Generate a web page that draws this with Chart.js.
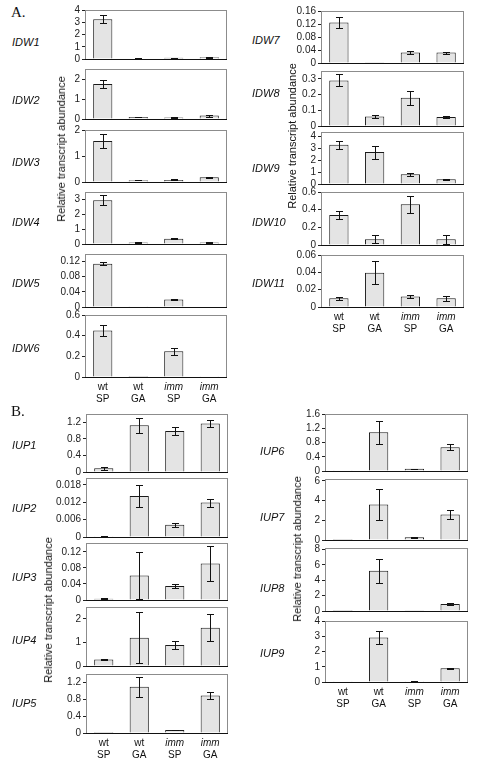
<!DOCTYPE html>
<html>
<head>
<meta charset="utf-8">
<script src="https://cdn.jsdelivr.net/npm/chart.js@4.4.1/dist/chart.umd.min.js"></script>
<style>
  body { margin: 0; background: #fff; width: 484px; height: 764px; position: relative; overflow: hidden;
         font-family: "Liberation Sans", Arial, sans-serif; color: #111; }
  canvas { position: absolute; }
  .gene { position: absolute; font-style: italic; font-size: 11px; transform: translateY(-50%); white-space: nowrap; }
  .sec { position: absolute; font-family: "Liberation Serif", serif; font-size: 15px; }
  .ytitle { position: absolute; font-size: 11px; white-space: nowrap; transform: translate(-50%, -50%) rotate(-90deg); }
</style>
</head>
<body>
<script>
// categories: genotype / treatment
var genotypes = ['wt', 'wt', 'imm', 'imm'];
var treatments = ['SP', 'GA', 'SP', 'GA'];
var categories = ['wt SP', 'wt GA', 'imm SP', 'imm GA'];

// A. IDW genes (mean, error)
var IDW1 = [3.25, 0.05, 0.1, 0.15],        IDW1_ERR = [0.35, 0.01, 0.02, 0.03];
var IDW2 = [1.75, 0.1, 0.07, 0.17],        IDW2_ERR = [0.22, 0.01, 0.01, 0.05];
var IDW3 = [1.58, 0.07, 0.08, 0.18],       IDW3_ERR = [0.28, 0.01, 0.02, 0.02];
var IDW4 = [2.95, 0.1, 0.35, 0.1],         IDW4_ERR = [0.33, 0.02, 0.03, 0.02];
var IDW5 = [0.114, 0.002, 0.02, 0.001],    IDW5_ERR = [0.004, 0, 0.002, 0];
var IDW6 = [0.45, 0.001, 0.25, 0.002],     IDW6_ERR = [0.05, 0, 0.035, 0];
var IDW7 = [0.125, 0.001, 0.032, 0.032],   IDW7_ERR = [0.018, 0, 0.004, 0.003];
var IDW8 = [0.29, 0.06, 0.18, 0.058],      IDW8_ERR = [0.038, 0.01, 0.045, 0.008];
var IDW9 = [3.32, 2.7, 0.83, 0.4],         IDW9_ERR = [0.35, 0.55, 0.12, 0.05];
var IDW10 = [0.34, 0.065, 0.46, 0.065],    IDW10_ERR = [0.05, 0.045, 0.095, 0.05];
var IDW11 = [0.01, 0.0396, 0.012, 0.01],   IDW11_ERR = [0.002, 0.013, 0.002, 0.003];

// B. IUP genes (mean, error)
var IUP1 = [0.09, 1.13, 0.99, 1.17],       IUP1_ERR = [0.04, 0.18, 0.1, 0.08];
var IUP2 = [0.0003, 0.0142, 0.0042, 0.0119], IUP2_ERR = [0.0002, 0.0038, 0.0006, 0.0014];
var IUP3 = [0.003, 0.061, 0.035, 0.091],   IUP3_ERR = [0.001, 0.058, 0.004, 0.043];
var IUP4 = [0.28, 1.2, 0.89, 1.62],        IUP4_ERR = [0.03, 1.07, 0.18, 0.57];
var IUP5 = [0.002, 1.1, 0.07, 0.89],       IUP5_ERR = [0, 0.24, 0.01, 0.08];
var IUP6 = [0.005, 1.09, 0.06, 0.67],      IUP6_ERR = [0, 0.32, 0.01, 0.09];
var IUP7 = [0.01, 3.6, 0.27, 2.6],         IUP7_ERR = [0, 1.6, 0.03, 0.5];
var IUP8 = [0.01, 5.25, 0.04, 0.9],        IUP8_ERR = [0, 1.57, 0.01, 0.15];
var IUP9 = [0.01, 2.92, 0.05, 0.9],        IUP9_ERR = [0, 0.45, 0.01, 0.05];

// y tick labels for each panel
var T_0_4 = [0, 1, 2, 3, 4];
var T_0_2 = [0, 1, 2];
var T_0_3 = [0, 1, 2, 3];
var T_012 = [0, 0.04, 0.08, 0.12];
var T_06 = [0, 0.2, 0.4, 0.6];
var T_016 = [0, 0.04, 0.08, 0.12, 0.16];
var T_03 = [0, 0.1, 0.2, 0.3];
var T_006 = [0, 0.02, 0.04, 0.06];
var T_12 = [0, 0.4, 0.8, 1.2];
var T_0018 = [0, 0.006, 0.012, 0.018];
var T_16 = [0, 0.4, 0.8, 1.2, 1.6];
var T_6 = [0, 2, 4, 6];
var T_8 = [0, 2, 4, 6, 8];

// column geometry
var colA1 = { x0: 85, x1: 227, lx: 12 };
var colA2 = { x0: 321, x1: 464, lx: 252 };
var colB1 = { x0: 86, x1: 228, lx: 12 };
var colB2 = { x0: 325, x1: 468, lx: 260 };

var panels = [
  { name: 'IDW1', col: colA1, v: IDW1, e: IDW1_ERR, ticks: T_0_4, max: 4, top: 10, bottom: 59, ly: 42 },
  { name: 'IDW2', col: colA1, v: IDW2, e: IDW2_ERR, ticks: T_0_2, max: 2.5, top: 69, bottom: 119, ly: 100 },
  { name: 'IDW3', col: colA1, v: IDW3, e: IDW3_ERR, ticks: T_0_2, max: 2, top: 130, bottom: 182, ly: 162 },
  { name: 'IDW4', col: colA1, v: IDW4, e: IDW4_ERR, ticks: T_0_3, max: 3.5, top: 192, bottom: 244, ly: 222 },
  { name: 'IDW5', col: colA1, v: IDW5, e: IDW5_ERR, ticks: T_012, max: 0.14, top: 254, bottom: 307, ly: 283 },
  { name: 'IDW6', col: colA1, v: IDW6, e: IDW6_ERR, ticks: T_06, max: 0.6, top: 315, bottom: 377, ly: 348, xl: true },
  { name: 'IDW7', col: colA2, v: IDW7, e: IDW7_ERR, ticks: T_016, max: 0.16, top: 11, bottom: 63, ly: 40 },
  { name: 'IDW8', col: colA2, v: IDW8, e: IDW8_ERR, ticks: T_03, max: 0.35, top: 71, bottom: 126, ly: 93 },
  { name: 'IDW9', col: colA2, v: IDW9, e: IDW9_ERR, ticks: T_0_4, max: 4.4, top: 132, bottom: 184, ly: 168 },
  { name: 'IDW10', col: colA2, v: IDW10, e: IDW10_ERR, ticks: T_06, max: 0.6, top: 192, bottom: 245, ly: 222 },
  { name: 'IDW11', col: colA2, v: IDW11, e: IDW11_ERR, ticks: T_006, max: 0.06, top: 255, bottom: 307, ly: 283, xl: true },
  { name: 'IUP1', col: colB1, v: IUP1, e: IUP1_ERR, ticks: T_12, max: 1.4, top: 414, bottom: 472, ly: 445 },
  { name: 'IUP2', col: colB1, v: IUP2, e: IUP2_ERR, ticks: T_0018, max: 0.0204, top: 478, bottom: 537, ly: 508 },
  { name: 'IUP3', col: colB1, v: IUP3, e: IUP3_ERR, ticks: T_012, max: 0.142, top: 543, bottom: 600, ly: 577 },
  { name: 'IUP4', col: colB1, v: IUP4, e: IUP4_ERR, ticks: T_0_2, max: 2.5, top: 607, bottom: 666, ly: 640 },
  { name: 'IUP5', col: colB1, v: IUP5, e: IUP5_ERR, ticks: T_12, max: 1.4, top: 674, bottom: 733, ly: 703, xl: true },
  { name: 'IUP6', col: colB2, v: IUP6, e: IUP6_ERR, ticks: T_16, max: 1.6, top: 414, bottom: 471, ly: 451 },
  { name: 'IUP7', col: colB2, v: IUP7, e: IUP7_ERR, ticks: T_6, max: 6.2, top: 479, bottom: 540, ly: 517 },
  { name: 'IUP8', col: colB2, v: IUP8, e: IUP8_ERR, ticks: T_8, max: 8.2, top: 548, bottom: 611, ly: 588 },
  { name: 'IUP9', col: colB2, v: IUP9, e: IUP9_ERR, ticks: T_0_4, max: 4, top: 621, bottom: 682, ly: 653, xl: true }
];

var AXW = 40, PADT = 8, PADR = 3;
var FONT = '"Liberation Sans", Arial, sans-serif';

// frame, error bars and category labels
var panelPlugin = {
  id: 'panel',
  beforeDatasetsDraw: function(chart) {
    var a = chart.chartArea, ctx = chart.ctx;
    ctx.save();
    ctx.strokeStyle = '#8c8c8c';
    ctx.lineWidth = 1;
    ctx.strokeRect(a.left + 0.5, a.top + 0.5, a.right - a.left - 1, a.bottom - a.top);
    ctx.restore();
  },
  afterDatasetsDraw: function(chart, args, opts) {
    var a = chart.chartArea, ctx = chart.ctx, y = chart.scales.y;
    var meta = chart.getDatasetMeta(0);
    var vals = chart.data.datasets[0].data;
    ctx.save();
    ctx.strokeStyle = '#111';
    ctx.lineWidth = 1;
    ctx.beginPath();
    ctx.moveTo(a.left, a.bottom + 0.5);
    ctx.lineTo(a.right, a.bottom + 0.5);
    ctx.stroke();
    meta.data.forEach(function(bar, i) {
      var e = opts.err[i];
      if (!e) return;
      var x = Math.round(bar.x) + 0.5;
      var yHi = Math.round(y.getPixelForValue(vals[i] + e)) + 0.5;
      var yLo = Math.round(y.getPixelForValue(vals[i] - e)) + 0.5;
      ctx.beginPath();
      ctx.moveTo(x, yHi); ctx.lineTo(x, yLo);
      ctx.moveTo(x - 3.5, yHi); ctx.lineTo(x + 3.5, yHi);
      ctx.moveTo(x - 3.5, yLo); ctx.lineTo(x + 3.5, yLo);
      ctx.stroke();
    });
    if (opts.xl) {
      ctx.fillStyle = '#111';
      ctx.textAlign = 'center';
      ctx.textBaseline = 'middle';
      meta.data.forEach(function(bar, i) {
        ctx.font = (genotypes[i] === 'imm' ? 'italic ' : '') + '10px ' + FONT;
        ctx.fillText(genotypes[i], bar.x, a.bottom + 10);
        ctx.font = '10px ' + FONT;
        ctx.fillText(treatments[i], bar.x, a.bottom + 22);
      });
    }
    ctx.restore();
  }
};

panels.forEach(function(p) {
  var padB = p.xl ? 34 : 8;
  var c = document.createElement('canvas');
  c.width = p.col.x1 - p.col.x0 + AXW + PADR;
  c.height = p.bottom - p.top + PADT + padB;
  c.style.left = (p.col.x0 - AXW) + 'px';
  c.style.top = (p.top - PADT) + 'px';
  document.body.appendChild(c);

  var g = document.createElement('div');
  g.className = 'gene';
  g.textContent = p.name;
  g.style.left = p.col.lx + 'px';
  g.style.top = p.ly + 'px';
  document.body.appendChild(g);

  var ticks = p.ticks;
  new Chart(c.getContext('2d'), {
    type: 'bar',
    data: {
      labels: categories,
      datasets: [{
        data: p.v,
        backgroundColor: '#e4e4e4',
        borderColor: '#1a1a1a',
        borderWidth: 1,
        barPercentage: 0.54,
        categoryPercentage: 1
      }]
    },
    options: {
      responsive: false,
      animation: false,
      layout: { padding: { top: PADT, bottom: padB, left: 0, right: PADR } },
      plugins: {
        legend: { display: false },
        tooltip: { enabled: false },
        panel: { err: p.e, xl: !!p.xl }
      },
      scales: {
        x: { display: false },
        y: {
          min: 0,
          max: p.max,
          afterFit: function(s) { s.width = AXW; },
          afterBuildTicks: function(s) { s.ticks = ticks.map(function(v) { return { value: v }; }); },
          border: { display: true, color: '#222', width: 1 },
          grid: { display: true, drawOnChartArea: false, drawTicks: true, tickLength: 3, color: '#222' },
          ticks: {
            autoSkip: false,
            color: '#222',
            padding: 2,
            font: { family: FONT, size: 10 },
            callback: function(v) { return String(v); }
          }
        }
      }
    },
    plugins: [panelPlugin]
  });
});

// section letters and axis titles
function addText(cls, text, x, y) {
  var d = document.createElement('div');
  d.className = cls;
  d.textContent = text;
  d.style.left = x + 'px';
  d.style.top = y + 'px';
  document.body.appendChild(d);
}
addText('sec', 'A.', 11, 4);
addText('sec', 'B.', 11, 403);
var yTitle = 'Relative transcript abundance';
addText('ytitle', yTitle, 61, 149);
addText('ytitle', yTitle, 292, 136);
addText('ytitle', yTitle, 48, 610);
addText('ytitle', yTitle, 297, 549);
</script>
</body>
</html>
